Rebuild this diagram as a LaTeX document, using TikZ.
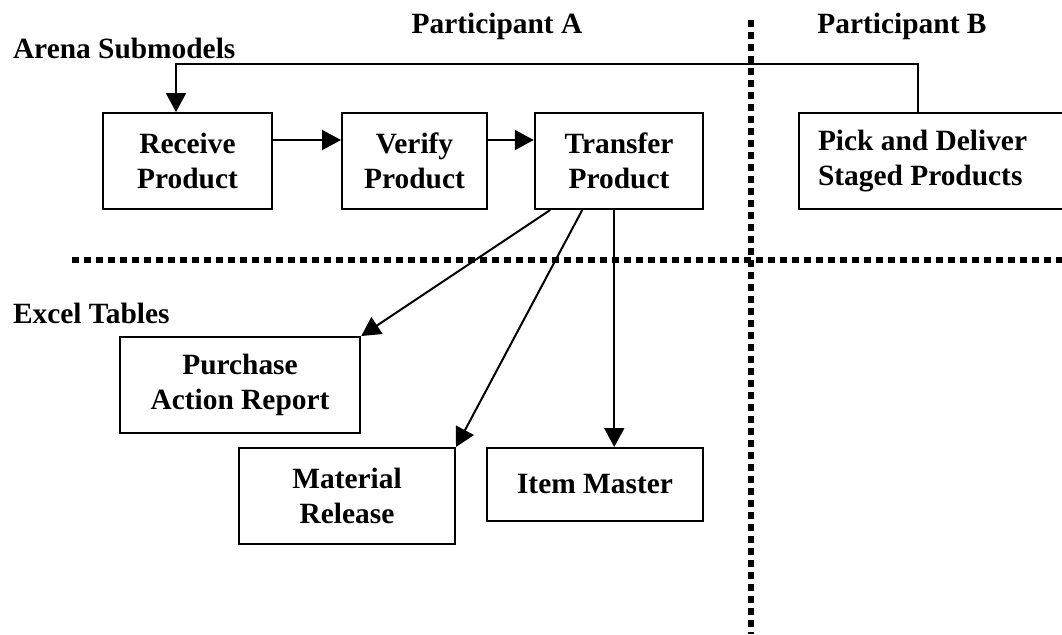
\documentclass[tikz,border=0pt]{standalone}
\usepackage{fontspec}
\setmainfont{Liberation Serif}
\usepackage{tikz}
\usetikzlibrary{arrows.meta}

\begin{document}
\begin{tikzpicture}[x=0.5pt,y=-0.5pt,>={Triangle[length=9.5pt,width=10pt]},line width=1pt,
    box/.style={draw,align=center,inner sep=0pt,minimum height=48pt,font=\fontsize{14.7}{17.2}\selectfont\bfseries},
    lbl/.style={inner sep=0pt,font=\fontsize{14.7}{17.2}\selectfont\bfseries},
    sep/.style={line width=3pt,dash pattern=on 3.3pt off 2.7pt}]
  \useasboundingbox (0,0) rectangle (1062,634);

  \node[lbl,anchor=base]      (partA) at (497,33)  {Participant A};
  \node[lbl,anchor=base]      (partB) at (902,33)  {Participant B};
  \node[lbl,anchor=base west] (arena) at (12,58)   {Arena Submodels};
  \node[lbl,anchor=base west] (excel) at (12,323)  {Excel Tables};

  \node[box,minimum width=84.5pt]  (recv)   at (187.5,161) {Receive\\Product};
  \node[box,minimum width=72.5pt]  (verify) at (414.5,161) {Verify\\Product};
  \node[box,minimum width=84.25pt] (xfer)   at (619,161)   {Transfer\\Product};
  \node[box,minimum width=135.5pt,align=flush left,text width=116.5pt,inner xsep=9.5pt]
                                   (pick)   at (934.5,161) {Pick and Deliver\\Staged Products};

  \node[box,minimum width=120.25pt] (pur)  at (240,385)   {Purchase\\Action Report};
  \node[box,minimum width=108pt]    (mat)  at (347,496)   {Material\\Release};
  \node[box,minimum width=108pt,minimum height=36.5pt] (item) at (595,484.5) {Item Master};

  % separators
  \coordinate (vtop) at (751,20);
  \coordinate (vbot) at (751,634);
  \coordinate (hl)   at (72,260);
  \coordinate (hr)   at (1062,260);
  \draw[sep] (vtop) -- (vbot);
  \draw[sep] (hl) -- (hr);

  \coordinate (fb) at (176,64);
  \path[->]
       ([yshift=10.5pt]recv.east) edge ([yshift=10.5pt]verify.west)
       ([yshift=10.5pt]verify.east) edge ([yshift=10.5pt]xfer.west)
       ([xshift=8.25pt]xfer.south west) edge (pur.north east)
       ([xshift=24.25pt]xfer.south west) edge (mat.north east)
       ([xshift=40.25pt]xfer.south west) edge ([xshift=40.25pt]xfer.south west |- item.north);
  \draw[->] ([xshift=-8.25pt]pick.north) |- (fb) -- (fb |- recv.north);
\end{tikzpicture}
\end{document}
